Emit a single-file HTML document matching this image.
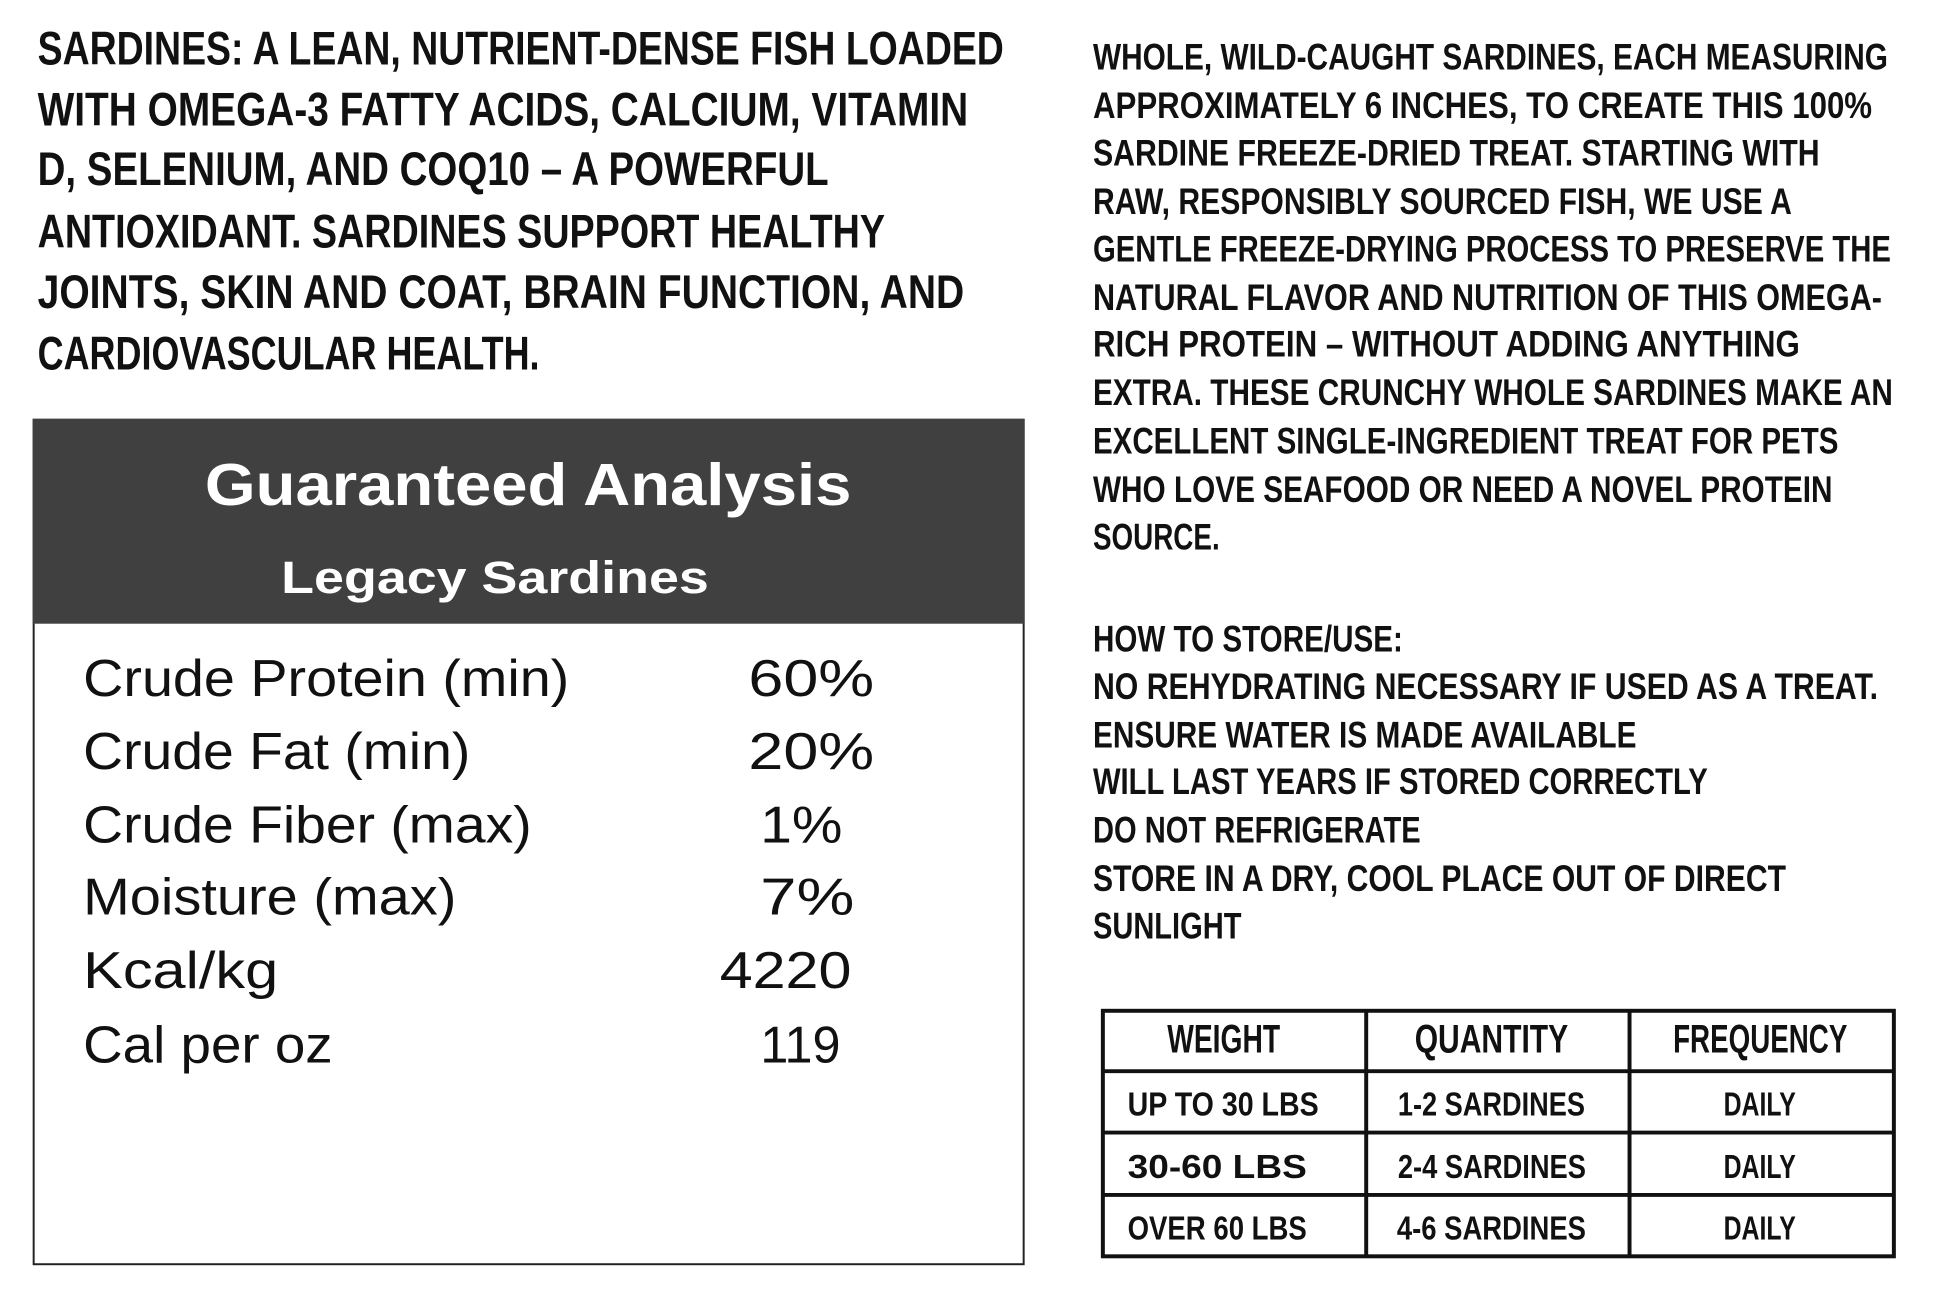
<!DOCTYPE html>
<html><head><meta charset="utf-8"><style>
html,body{margin:0;padding:0;background:#fff;}
svg{display:block}
.d{font-family:"Liberation Sans",sans-serif;font-weight:bold;fill:#111}
.a{font-family:"Liberation Sans",sans-serif;fill:#111}
</style></head><body>
<svg width="1946" height="1297" viewBox="0 0 1946 1297" xmlns="http://www.w3.org/2000/svg">
<rect width="1946" height="1297" fill="#fff"/>
<g transform="scale(0.99)">
<g class="d" font-size="48">
<text x="38" y="65" textLength="976" lengthAdjust="spacingAndGlyphs">SARDINES: A LEAN, NUTRIENT-DENSE FISH LOADED</text>
<text x="38" y="127" textLength="940" lengthAdjust="spacingAndGlyphs">WITH OMEGA-3 FATTY ACIDS, CALCIUM, VITAMIN</text>
<text x="38" y="187" textLength="799" lengthAdjust="spacingAndGlyphs">D, SELENIUM, AND COQ10 – A POWERFUL</text>
<text x="38" y="250" textLength="856" lengthAdjust="spacingAndGlyphs">ANTIOXIDANT. SARDINES SUPPORT HEALTHY</text>
<text x="38" y="311" textLength="936" lengthAdjust="spacingAndGlyphs">JOINTS, SKIN AND COAT, BRAIN FUNCTION, AND</text>
<text x="38" y="373" textLength="507" lengthAdjust="spacingAndGlyphs">CARDIOVASCULAR HEALTH.</text>
</g>
<g class="d" font-size="37">
<text x="1104" y="70" textLength="803" lengthAdjust="spacingAndGlyphs">WHOLE, WILD-CAUGHT SARDINES, EACH MEASURING</text>
<text x="1104" y="119" textLength="787" lengthAdjust="spacingAndGlyphs">APPROXIMATELY 6 INCHES, TO CREATE THIS 100%</text>
<text x="1104" y="167" textLength="734" lengthAdjust="spacingAndGlyphs">SARDINE FREEZE-DRIED TREAT. STARTING WITH</text>
<text x="1104" y="216" textLength="706" lengthAdjust="spacingAndGlyphs">RAW, RESPONSIBLY SOURCED FISH, WE USE A</text>
<text x="1104" y="264" textLength="806" lengthAdjust="spacingAndGlyphs">GENTLE FREEZE-DRYING PROCESS TO PRESERVE THE</text>
<text x="1104" y="313" textLength="797" lengthAdjust="spacingAndGlyphs">NATURAL FLAVOR AND NUTRITION OF THIS OMEGA-</text>
<text x="1104" y="360" textLength="714" lengthAdjust="spacingAndGlyphs">RICH PROTEIN – WITHOUT ADDING ANYTHING</text>
<text x="1104" y="409" textLength="808" lengthAdjust="spacingAndGlyphs">EXTRA. THESE CRUNCHY WHOLE SARDINES MAKE AN</text>
<text x="1104" y="458" textLength="753" lengthAdjust="spacingAndGlyphs">EXCELLENT SINGLE-INGREDIENT TREAT FOR PETS</text>
<text x="1104" y="507" textLength="747" lengthAdjust="spacingAndGlyphs">WHO LOVE SEAFOOD OR NEED A NOVEL PROTEIN</text>
<text x="1104" y="555" textLength="128" lengthAdjust="spacingAndGlyphs">SOURCE.</text>
<text x="1104" y="658" textLength="313" lengthAdjust="spacingAndGlyphs">HOW TO STORE/USE:</text>
<text x="1104" y="706" textLength="793" lengthAdjust="spacingAndGlyphs">NO REHYDRATING NECESSARY IF USED AS A TREAT.</text>
<text x="1104" y="755" textLength="549" lengthAdjust="spacingAndGlyphs">ENSURE WATER IS MADE AVAILABLE</text>
<text x="1104" y="802" textLength="621" lengthAdjust="spacingAndGlyphs">WILL LAST YEARS IF STORED CORRECTLY</text>
<text x="1104" y="851" textLength="331" lengthAdjust="spacingAndGlyphs">DO NOT REFRIGERATE</text>
<text x="1104" y="900" textLength="700" lengthAdjust="spacingAndGlyphs">STORE IN A DRY, COOL PLACE OUT OF DIRECT</text>
<text x="1104" y="948" textLength="150" lengthAdjust="spacingAndGlyphs">SUNLIGHT</text>
</g>
<rect x="34" y="424" width="1000" height="853" fill="#fff" stroke="#222" stroke-width="2"/>
<rect x="33" y="423" width="1002" height="207" fill="#404040"/>
<text class="a" x="207" y="510" font-size="60" font-weight="bold" style="fill:#fff" textLength="653" lengthAdjust="spacingAndGlyphs">Guaranteed Analysis</text>
<text class="a" x="284" y="599" font-size="46" font-weight="bold" style="fill:#fff" textLength="432" lengthAdjust="spacingAndGlyphs">Legacy  Sardines</text>
<g class="a" font-size="52">
<text x="84" y="703" textLength="491" lengthAdjust="spacingAndGlyphs">Crude Protein (min)</text>
<text x="84" y="777" textLength="391" lengthAdjust="spacingAndGlyphs">Crude Fat (min)</text>
<text x="84" y="851" textLength="453" lengthAdjust="spacingAndGlyphs">Crude Fiber (max)</text>
<text x="84" y="924" textLength="377" lengthAdjust="spacingAndGlyphs">Moisture (max)</text>
<text x="84" y="998" textLength="197" lengthAdjust="spacingAndGlyphs">Kcal/kg</text>
<text x="84" y="1073" textLength="252" lengthAdjust="spacingAndGlyphs">Cal per oz</text>
<text x="756" y="703" textLength="127" lengthAdjust="spacingAndGlyphs">60%</text>
<text x="756" y="777" textLength="127" lengthAdjust="spacingAndGlyphs">20%</text>
<text x="768" y="851" textLength="83" lengthAdjust="spacingAndGlyphs">1%</text>
<text x="768" y="924" textLength="95" lengthAdjust="spacingAndGlyphs">7%</text>
<text x="727" y="998" textLength="133" lengthAdjust="spacingAndGlyphs">4220</text>
<text x="768" y="1073" textLength="81" lengthAdjust="spacingAndGlyphs">119</text>
</g>
<g stroke="#111" stroke-width="4" fill="none">
<rect x="1114" y="1021" width="799" height="248"/>
<line x1="1114" y1="1082" x2="1913" y2="1082"/>
<line x1="1114" y1="1144" x2="1913" y2="1144"/>
<line x1="1114" y1="1207" x2="1913" y2="1207"/>
<line x1="1380" y1="1021" x2="1380" y2="1269"/>
<line x1="1646" y1="1021" x2="1646" y2="1269"/>
</g>
<g class="d" font-size="40">
<text x="1179" y="1063" textLength="114" lengthAdjust="spacingAndGlyphs">WEIGHT</text>
<text x="1429" y="1063" textLength="155" lengthAdjust="spacingAndGlyphs">QUANTITY</text>
<text x="1690" y="1063" textLength="176" lengthAdjust="spacingAndGlyphs">FREQUENCY</text>
</g>
<g class="d" font-size="34">
<text x="1139" y="1127" textLength="193" lengthAdjust="spacingAndGlyphs">UP TO 30 LBS</text>
<text x="1412" y="1127" textLength="189" lengthAdjust="spacingAndGlyphs">1-2 SARDINES</text>
<text x="1741" y="1127" textLength="73" lengthAdjust="spacingAndGlyphs">DAILY</text>
<text x="1139" y="1190" textLength="181" lengthAdjust="spacingAndGlyphs">30-60 LBS</text>
<text x="1412" y="1190" textLength="190" lengthAdjust="spacingAndGlyphs">2-4 SARDINES</text>
<text x="1741" y="1190" textLength="73" lengthAdjust="spacingAndGlyphs">DAILY</text>
<text x="1139" y="1252" textLength="181" lengthAdjust="spacingAndGlyphs">OVER 60 LBS</text>
<text x="1411" y="1252" textLength="191" lengthAdjust="spacingAndGlyphs">4-6 SARDINES</text>
<text x="1741" y="1252" textLength="73" lengthAdjust="spacingAndGlyphs">DAILY</text>
</g>
</g>
</svg>
</body></html>
